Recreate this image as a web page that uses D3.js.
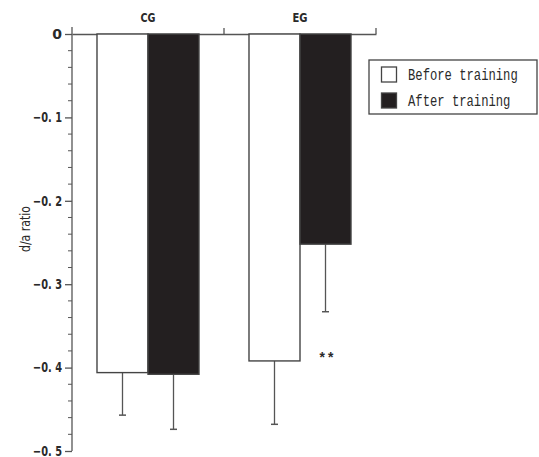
<!DOCTYPE html>
<html><head><meta charset="utf-8">
<script src="https://cdn.jsdelivr.net/npm/d3@7"></script>
<style>
body{margin:0;background:#fff;}
text{fill:#2a2a2a;}
.narrow{font-family:"DejaVu Sans","Liberation Sans",sans-serif;}
.mono{font-family:"Liberation Mono","DejaVu Sans Mono",monospace;}
</style>
</head><body>
<svg id="chart" width="539" height="457"></svg>
<script>
const groups = ["CG", "EG"];
const seriesNames = ["Before training", "After training"];
const beforeValues = [-0.406, -0.392];
const afterValues = [-0.408, -0.252];
const beforeErrors = [0.051, 0.076];
const afterErrors = [0.066, 0.081];
const yTicks = [0, -0.1, -0.2, -0.3, -0.4, -0.5];
const yTickLabels = ["0", "\u22120. 1", "\u22120. 2", "\u22120. 3", "\u22120. 4", "\u22120. 5"];
const fills = ["#ffffff", "#231f20"];
const significance = ["", "**"];

const svg = d3.select("#chart");
const mLeft = 72, mRight = 376, mTop = 34, mBottom = 451;
const x = d3.scaleBand().domain(groups).range([mLeft, mRight]).paddingInner(0).paddingOuter(0);
const inner = d3.scaleBand().domain([0,1]).range([0, x.bandwidth()]).paddingOuter(0.49).paddingInner(0);
const y = d3.scaleLinear().domain([0, -0.5]).range([mTop, mBottom]);
const axisColor = "#555";

// minor ticks
const minor = d3.range(0, 26).map(i => -i * 0.02).filter(v => Math.abs(Math.round(v*10)/10 - v) > 1e-6);
svg.append("g").selectAll("line").data(minor).join("line")
  .attr("x1", mLeft - 4).attr("x2", mLeft).attr("y1", d => y(d)).attr("y2", d => y(d))
  .attr("stroke", axisColor).attr("stroke-width", 1);

// y axis
const yAxis = d3.axisLeft(y).tickValues(yTicks).tickFormat((d,i) => yTickLabels[i]).tickSize(7).tickSizeOuter(0).tickPadding(3);
const gy = svg.append("g").attr("transform", `translate(${mLeft},0)`).call(yAxis);
gy.select(".domain").attr("stroke", axisColor).attr("stroke-width", 1.3).attr("d", `M0,${mTop-7}V${mBottom}`);
gy.selectAll(".tick line").attr("stroke", axisColor).attr("stroke-width", 1.3);
gy.selectAll(".tick text").attr("class", "narrow").attr("font-size", 14).attr("font-weight", "bold").attr("fill", "#2a2a2a")
  .attr("dy", "0.3em")
  .each(function(d, i){ if (i > 0) d3.select(this).attr("textLength", 29).attr("lengthAdjust", "spacingAndGlyphs"); });

// top x axis
const xAxis = d3.axisTop(x).tickSize(0).tickPadding(12);
const gx = svg.append("g").attr("transform", `translate(0,${mTop})`).call(xAxis);
gx.select(".domain").attr("stroke", axisColor).attr("stroke-width", 1.3);
gx.selectAll(".tick text").attr("class", "narrow").attr("font-size", 13).attr("font-weight", "bold").attr("fill", "#2a2a2a")
  .attr("textLength", 15).attr("lengthAdjust", "spacingAndGlyphs");
const boundaries = [x("EG"), mRight];
svg.append("g").selectAll("line").data(boundaries).join("line")
  .attr("x1", d => d).attr("x2", d => d).attr("y1", mTop).attr("y2", mTop - 6)
  .attr("stroke", axisColor).attr("stroke-width", 1.3);

// bars
const series = [beforeValues, afterValues];
const errs = [beforeErrors, afterErrors];
groups.forEach((g, gi) => {
  [0,1].forEach(si => {
    const v = series[si][gi];
    const bx = x(g) + inner(si);
    const bw = inner.bandwidth();
    const cx = bx + bw/2;
    const e = v - errs[si][gi];
    svg.append("line").attr("x1", cx).attr("x2", cx).attr("y1", y(v)).attr("y2", y(e))
      .attr("stroke", "#555").attr("stroke-width", 1.3);
    svg.append("line").attr("x1", cx - 3.5).attr("x2", cx + 3.5).attr("y1", y(e)).attr("y2", y(e))
      .attr("stroke", "#555").attr("stroke-width", 1.5);
    svg.append("rect").attr("x", bx).attr("y", y(0)).attr("width", bw).attr("height", y(v) - y(0))
      .attr("fill", fills[si]).attr("stroke", "#444").attr("stroke-width", 1.4);
  });
});
// significance
groups.forEach((g, gi) => {
  if (!significance[gi]) return;
  svg.append("text").attr("class", "mono").attr("x", x(g) + inner(1) + inner.bandwidth()/2 + 1)
    .attr("y", y(beforeValues[gi]) + 2).attr("text-anchor", "middle")
    .attr("font-size", 14).attr("font-weight", "bold").text(significance[gi]);
});

// y label
svg.append("text").attr("class", "narrow").attr("transform", `translate(30,229) rotate(-90)`)
  .attr("text-anchor", "middle").attr("font-size", 14).attr("textLength", 46).attr("lengthAdjust", "spacingAndGlyphs")
  .text("d/a ratio");

// legend
const lg = svg.append("g");
lg.append("rect").attr("x", 369).attr("y", 60).attr("width", 168).attr("height", 54)
  .attr("fill", "#fff").attr("stroke", "#444").attr("stroke-width", 1.3);
seriesNames.forEach((n, i) => {
  const yy = 67 + i * 26;
  lg.append("rect").attr("x", 381.5).attr("y", yy).attr("width", 15).attr("height", 15)
    .attr("fill", fills[i]).attr("stroke", "#444").attr("stroke-width", 1.3);
  const sy = 1.35;
  lg.append("text").attr("class", "mono")
    .attr("transform", `translate(408,${yy + 13}) scale(1,${sy})`)
    .attr("x", 0).attr("y", 0)
    .attr("font-size", 12.2)
    .text(n);
});
</script>
</body></html>
